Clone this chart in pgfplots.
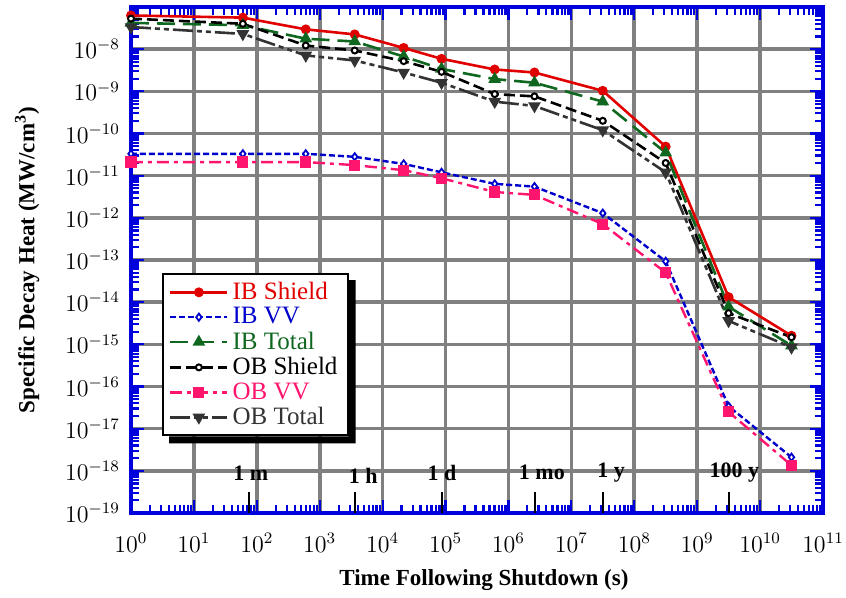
\documentclass[border=0pt]{standalone}
\usepackage{fontspec}
\setmainfont{Liberation Serif}
\usepackage{pgfplots}
\pgfplotsset{compat=1.18}
\definecolor{ibred}{RGB}{225,0,0}
\definecolor{ibblue}{RGB}{0,0,204}
\definecolor{ibgreen}{RGB}{16,104,32}
\definecolor{obpink}{RGB}{255,20,110}
\definecolor{obgray}{RGB}{51,51,51}
\definecolor{axblue}{RGB}{0,0,220}
\def\minorx{1}
\foreach \e in {0,...,10}{\foreach \m in {2,...,9}{\xdef\minorx{\minorx,\m e\e}}}
\def\minory{1e-19}
\foreach \e in {-19,...,-8}{\foreach \m in {2,...,9}{\xdef\minory{\minory,\m e\e}}}
\begin{document}
\begin{tikzpicture}
\useasboundingbox (0,0) rectangle (423pt,299pt);
\begin{axis}[
  at={(65.5pt,42.5pt)}, anchor=south west,
  scale only axis, width=346pt, height=253pt,
  xmode=log, ymode=log,
  xmin=1, xmax=1e11, ymin=1e-19, ymax=1e-7,
  xtick={1,10,100,1e3,1e4,1e5,1e6,1e7,1e8,1e9,1e10,1e11},
  ytick={1e-19,1e-18,1e-17,1e-16,1e-15,1e-14,1e-13,1e-12,1e-11,1e-10,1e-9,1e-8,1e-7},
  yticklabels={$10^{-19}$,$10^{-18}$,$10^{-17}$,$10^{-16}$,$10^{-15}$,$10^{-14}$,$10^{-13}$,$10^{-12}$,$10^{-11}$,$10^{-10}$,$10^{-9}$,$10^{-8}$,},
  minor xtick/.expanded={\minorx},
  minor ytick/.expanded={\minory},
  grid=major,
  major grid style={draw=gray, line width=1.8pt},
  axis line style={draw=axblue, line width=2pt},
  tick align=inside,
  every tick/.style={draw=axblue, line width=1.1pt},
  major tick length=6.5pt, minor tick length=4pt,
  tick label style={font=\fontsize{12}{14}\selectfont},
  xticklabel style={yshift=-6.5pt},
  yticklabel style={xshift=-2pt},
  xlabel={\bfseries Time Following Shutdown (s)},
  ylabel={\bfseries Specific Decay Heat (MW/cm\textsuperscript{3})},
  label style={font=\fontsize{11.5}{13}\selectfont},
  xlabel style={at={(axis description cs:0.51,-0.132)}, anchor=center},
  ylabel style={at={(axis description cs:-0.150,0.5)}, anchor=center},
  clip=false,
  legend style={name=leg, at={(0.045,0.474)}, anchor=north west, draw=black, line width=1pt,
    fill=white, font=\fontsize{12.5}{14}\selectfont, cells={anchor=west},
    row sep=-1.5pt, inner xsep=3pt, inner ysep=2pt},
  legend image code/.code={\draw[mark repeat=2,mark phase=2] plot coordinates {(0cm,0cm) (0.5cm,0cm) (1cm,0cm)};},
]
\addplot[ibred, line width=1.3pt, mark=*, mark size=1.8pt, mark options={solid, fill=ibred}] coordinates {
(1,6.3e-8) (60,5.6e-8) (600,2.95e-8) (3600,2.24e-8) (21600,1.07e-8) (86400,5.9e-9)
(604800,3.3e-9) (2592000,2.8e-9) (3.156e7,1.03e-9) (3.156e8,4.9e-11) (3.156e9,1.32e-14) (3.156e10,1.6e-15)};
\addlegendentry{\textcolor{ibred}{IB Shield}}
\addplot[ibblue, line width=1.2pt, dash pattern=on 3pt off 1.5pt, mark=diamond*, mark size=1.8pt, mark options={solid, fill=white, line width=0.9pt}] coordinates {
(1,3.3e-11) (60,3.3e-11) (600,3.3e-11) (3600,2.8e-11) (21600,1.9e-11) (86400,1.2e-11)
(604800,6.4e-12) (2592000,5.5e-12) (3.156e7,1.29e-12) (3.156e8,9.3e-14) (3.156e9,3.4e-17) (3.156e10,2.1e-18)};
\addlegendentry{\textcolor{ibblue}{IB VV}}
\addplot[ibgreen, line width=1.3pt, dash pattern=on 9pt off 4pt, mark=triangle*, mark size=2.4pt, mark options={solid, fill=ibgreen}] coordinates {
(1,4.2e-8) (60,3.7e-8) (600,1.77e-8) (3600,1.52e-8) (21600,6.7e-9) (86400,3.4e-9)
(604800,1.95e-9) (2592000,1.6e-9) (3.156e7,5.7e-10) (3.156e8,3.5e-11) (3.156e9,7.8e-15) (3.156e10,9.3e-16)};
\addlegendentry{\textcolor{ibgreen}{IB Total}}
\addplot[black, line width=1.3pt, dash pattern=on 5.5pt off 2.5pt, mark=*, mark size=1.5pt, mark options={solid, fill=white, line width=1pt}] coordinates {
(1,5.3e-8) (60,4.0e-8) (600,1.22e-8) (3600,9.3e-9) (21600,5.2e-9) (86400,2.9e-9)
(604800,8.6e-10) (2592000,7.6e-10) (3.156e7,2.0e-10) (3.156e8,2.0e-11) (3.156e9,5.5e-15) (3.156e10,1.47e-15)};
\addlegendentry{OB Shield}
\addplot[obpink, line width=1.2pt, dash pattern=on 6pt off 2.5pt on 2pt off 2.5pt, mark=square*, mark size=2.2pt, mark options={solid, fill=obpink}] coordinates {
(1,2.1e-11) (60,2.1e-11) (600,2.1e-11) (3600,1.78e-11) (21600,1.35e-11) (86400,8.7e-12)
(604800,4.1e-12) (2592000,3.5e-12) (3.156e7,7.1e-13) (3.156e8,5.0e-14) (3.156e9,2.5e-17) (3.156e10,1.35e-18)};
\addlegendentry{\textcolor{obpink}{OB VV}}
\addplot[obgray, line width=1.3pt, dash pattern=on 10pt off 2pt on 2.5pt off 2pt on 2.5pt off 2pt, mark=triangle*, mark size=2.4pt, mark options={solid, fill=obgray, rotate=180}] coordinates {
(1,3.35e-8) (60,2.3e-8) (600,7.1e-9) (3600,5.4e-9) (21600,2.8e-9) (86400,1.6e-9)
(604800,5.7e-10) (2592000,4.5e-10) (3.156e7,1.2e-10) (3.156e8,1.2e-11) (3.156e9,3.6e-15) (3.156e10,8.5e-16)};
\addlegendentry{\textcolor{obgray}{OB Total}}
% time markers
\draw[black, line width=1pt] (axis cs:74,1e-19) -- (axis cs:74,3.2e-19);
\draw[black, line width=1pt] (axis cs:3600,1e-19) -- (axis cs:3600,3.2e-19);
\draw[black, line width=1pt] (axis cs:86400,1e-19) -- (axis cs:86400,3.2e-19);
\draw[black, line width=1pt] (axis cs:2.63e6,1e-19) -- (axis cs:2.63e6,3.2e-19);
\draw[black, line width=1pt] (axis cs:3.156e7,1e-19) -- (axis cs:3.156e7,3.2e-19);
\draw[black, line width=1pt] (axis cs:3.156e9,1e-19) -- (axis cs:3.156e9,3.2e-19);
\begin{scope}[every node/.style={font=\bfseries\fontsize{11}{12}\selectfont}]
\node at (axis cs:80,9e-19) {1 m};
\node at (axis cs:4900,7.5e-19) {1 h};
\node at (axis cs:88000,9e-19) {1 d};
\node at (axis cs:3.4e6,9e-19) {1 mo};
\node at (axis cs:4.3e7,9e-19) {1 y};
\node at (axis cs:3.9e9,9e-19) {100 y};
\end{scope}
\end{axis}
\fill[black] ([yshift=-3.5pt]leg.north east) -- ([xshift=3.5pt,yshift=-3.5pt]leg.north east)
  -- ([xshift=3.5pt,yshift=-3.5pt]leg.south east) -- ([xshift=3.5pt,yshift=-3.5pt]leg.south west)
  -- ([xshift=3.5pt]leg.south west) -- (leg.south east) -- cycle;
\end{tikzpicture}
\end{document}
